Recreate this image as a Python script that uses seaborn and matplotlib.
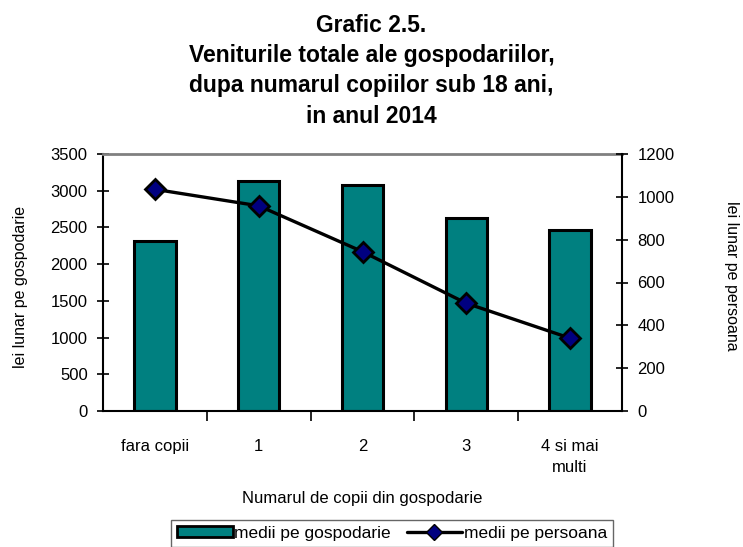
import numpy as np
import pandas as pd
import matplotlib
matplotlib.use("Agg")
import matplotlib.pyplot as plt
import seaborn as sns
from matplotlib.ticker import FixedLocator
from matplotlib.patches import Patch
from matplotlib.lines import Line2D

categories = ["fara copii", "1", "2", "3", "4 si mai\nmulti"]
medii_gospodarie = [2320, 3135, 3075, 2630, 2460]
medii_persoana = [1035, 958, 744, 503, 340]
left_ticks = [0, 500, 1000, 1500, 2000, 2500, 3000, 3500]
right_ticks = [0, 200, 400, 600, 800, 1000, 1200]

sns.set_style("white")
plt.rcParams["font.family"] = ["Liberation Sans", "DejaVu Sans"]
plt.rcParams["text.color"] = "black"
plt.rcParams["xtick.color"] = "black"
plt.rcParams["ytick.color"] = "black"
plt.rcParams["axes.labelcolor"] = "black"

W, H = 743, 547
fig = plt.figure(figsize=(W / 100, H / 100), dpi=100)
ax = fig.add_axes([103 / W, 1 - 411 / H, (622 - 103) / W, (411 - 154) / H])

df = pd.DataFrame({"cat": categories, "gosp": medii_gospodarie})
sns.barplot(data=df, x="cat", y="gosp", ax=ax, color="#008080", width=0.4,
            edgecolor="black", linewidth=2.2, saturation=1, zorder=2)
for p in ax.patches:
    p.set_facecolor("#008080")

ax.set_xlim(-0.5, 4.5)
ax.set_ylim(0, 3500)
ax.yaxis.set_major_locator(FixedLocator(left_ticks))
ax.set_xlabel("")
ax.set_ylabel("")
ax.tick_params(axis="y", direction="inout", length=8, width=1.2, labelsize=12,
               left=True, pad=7, color="black", labelcolor="black")
ax.tick_params(axis="x", which="major", length=0, labelsize=12, pad=20,
               labelcolor="black")
ax.xaxis.set_minor_locator(FixedLocator([0.5, 1.5, 2.5, 3.5]))
ax.tick_params(axis="x", which="minor", direction="out", length=7, width=1.2,
               bottom=True, color="black")
ax.set_xticks(range(len(categories)))
ax.set_xticklabels(categories, linespacing=1.5)

for s in ["left", "bottom"]:
    ax.spines[s].set_color("black")
    ax.spines[s].set_linewidth(1.5)
ax.spines["top"].set_color("#808080")
ax.spines["top"].set_linewidth(2)
ax.spines["right"].set_visible(False)

ax2 = ax.twinx()
sns.lineplot(x=np.arange(len(categories)), y=medii_persoana, ax=ax2, color="black",
             linewidth=2.4, marker="D", markersize=10, markerfacecolor="#000080",
             markeredgecolor="black", markeredgewidth=2, zorder=3)
ax2.set_ylim(0, 1200)
ax2.yaxis.set_major_locator(FixedLocator(right_ticks))
ax2.tick_params(axis="y", direction="inout", length=8, width=1.2, labelsize=12,
                right=True, pad=7, color="black", labelcolor="black")
for s in ["left", "top", "bottom"]:
    ax2.spines[s].set_visible(False)
ax2.spines["right"].set_color("black")
ax2.spines["right"].set_linewidth(1.5)
ax2.set_ylabel("")

fig.text(0.5, 1 - 14 / H,
         "Grafic 2.5.\nVeniturile totale ale gospodariilor,\ndupa numarul copiilor sub 18 ani,\nin anul 2014",
         ha="center", va="top", fontsize=16.5, fontweight="bold", linespacing=1.4)
fig.text(21 / W, 1 - 287 / H, "lei lunar pe gospodarie", rotation=90,
         ha="center", va="center", fontsize=11.5)
fig.text(732 / W, 1 - 276 / H, "lei lunar pe persoana", rotation=-90,
         ha="center", va="center", fontsize=11.5)
fig.text(362.5 / W, 1 - 499 / H, "Numarul de copii din gospodarie",
         ha="center", va="center", fontsize=12)

handles = [Patch(facecolor="#008080", edgecolor="black", linewidth=2),
           Line2D([], [], color="black", linewidth=2.4, marker="D", markersize=8,
                  markerfacecolor="#000080", markeredgecolor="black")]
leg = fig.legend(handles, ["medii pe gospodarie", "medii pe persoana"],
                 loc="upper center", bbox_to_anchor=(392 / W, 1 - 520 / H),
                 ncol=2, fontsize=12.5, frameon=True, fancybox=False,
                 edgecolor="#404040", handlelength=3.2, handleheight=0.6,
                 handletextpad=0.1, columnspacing=0.9, borderpad=0.35,
                 borderaxespad=0)
leg.get_frame().set_linewidth(1.0)

fig.savefig("out.png", dpi=100)
